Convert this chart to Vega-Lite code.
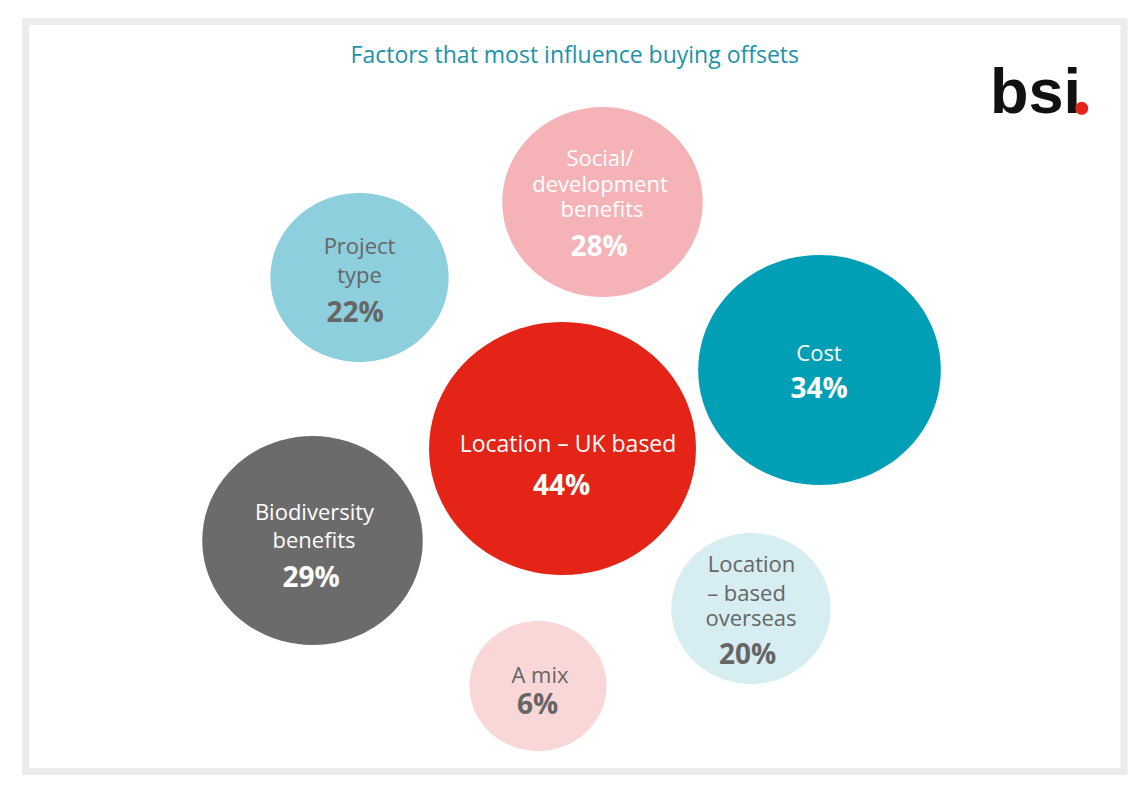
{
  "$schema": "https://vega.github.io/schema/vega-lite/v6.json",
  "width": 1098.5,
  "height": 750,
  "autosize": {"type": "none"},
  "padding": {"left": 25.5, "top": 21.5, "right": 13, "bottom": 22.5},
  "background": "white",
  "config": {
    "view": {"stroke": "#ececea", "strokeWidth": 7, "fill": "white"},
    "font": "Open Sans"
  },
  "title": {
    "text": "Factors that most influence buying offsets",
    "color": "#1b93a8",
    "font": "Open Sans",
    "fontSize": 23,
    "fontWeight": "normal",
    "anchor": "middle",
    "baseline": "alphabetic",
    "offset": -64
  },
  "datasets": {
    "bubbles": [
      {"category": "Social/development benefits", "value": 28, "x": 602.5, "y": 202},
      {"category": "Project type", "value": 22, "x": 359.5, "y": 277.5},
      {"category": "Cost", "value": 34, "x": 819.5, "y": 370},
      {"category": "Location – UK based", "value": 44, "x": 562.5, "y": 448.5},
      {"category": "Biodiversity benefits", "value": 29, "x": 312.5, "y": 540.5},
      {"category": "Location – based overseas", "value": 20, "x": 751, "y": 608.5},
      {"category": "A mix", "value": 6, "x": 538, "y": 686}
    ],
    "labels": [
      {"category": "Social/development benefits", "kind": "name", "text": "Social/", "x": 600, "y": 165.7},
      {"category": "Social/development benefits", "kind": "name", "text": "development", "x": 600, "y": 191.7},
      {"category": "Social/development benefits", "kind": "name", "text": "benefits", "x": 602, "y": 217.3},
      {"category": "Social/development benefits", "kind": "pct", "text": "28%", "x": 599, "y": 256},
      {"category": "Project type", "kind": "name", "text": "Project", "x": 359.5, "y": 254},
      {"category": "Project type", "kind": "name", "text": "type", "x": 359.5, "y": 283.3},
      {"category": "Project type", "kind": "pct", "text": "22%", "x": 355, "y": 321.7},
      {"category": "Cost", "kind": "name", "text": "Cost", "x": 819, "y": 361},
      {"category": "Cost", "kind": "pct", "text": "34%", "x": 819, "y": 398},
      {"category": "Location – UK based", "kind": "wide", "text": "Location – UK based", "x": 568, "y": 451.7},
      {"category": "Location – UK based", "kind": "pct", "text": "44%", "x": 561.5, "y": 495},
      {"category": "Biodiversity benefits", "kind": "name", "text": "Biodiversity", "x": 314.5, "y": 520},
      {"category": "Biodiversity benefits", "kind": "name", "text": "benefits", "x": 314, "y": 548.3},
      {"category": "Biodiversity benefits", "kind": "pct", "text": "29%", "x": 311, "y": 586.7},
      {"category": "Location – based overseas", "kind": "name", "text": "Location", "x": 751.5, "y": 572.3},
      {"category": "Location – based overseas", "kind": "name", "text": "– based", "x": 746.5, "y": 600.7},
      {"category": "Location – based overseas", "kind": "name", "text": "overseas", "x": 751, "y": 626},
      {"category": "Location – based overseas", "kind": "pct", "text": "20%", "x": 747.5, "y": 664.3},
      {"category": "A mix", "kind": "name", "text": "A mix", "x": 540, "y": 683.3},
      {"category": "A mix", "kind": "pct", "text": "6%", "x": 537.5, "y": 714}
    ],
    "logo": [
      {"part": "wordmark", "text": "bsi", "x": 990, "y": 113}
    ],
    "logodot": [
      {"part": "dot", "x": 1081.7, "y": 108.3}
    ]
  },
  "encoding": {
    "x": {"field": "x", "type": "quantitative", "scale": {"domain": [25.5, 1124], "nice": false, "zero": false}, "axis": null},
    "y": {"field": "y", "type": "quantitative", "scale": {"domain": [21.5, 771.5], "reverse": true, "nice": false, "zero": false}, "axis": null}
  },
  "layer": [
    {
      "data": {"name": "bubbles"},
      "mark": {
        "type": "point",
        "filled": true,
        "opacity": 1,
        "strokeWidth": 0,
        "shape": "M -1.055 0 A 1.055 1 0 1 1 1.055 0 A 1.055 1 0 1 1 -1.055 0 Z"
      },
      "encoding": {
        "size": {
          "field": "value", "type": "quantitative", "legend": null,
          "scale": {"type": "linear", "domain": [6, 20, 22, 28, 29, 34, 44], "range": [16900, 22801, 28561, 36100, 43681, 52900, 64009]}
        },
        "color": {
          "field": "category", "type": "nominal", "legend": null,
          "scale": {
            "domain": ["Social/development benefits", "Project type", "Cost", "Location – UK based", "Biodiversity benefits", "Location – based overseas", "A mix"],
            "range": ["#f5b3b8", "#8dcfdd", "#009fb6", "#e32416", "#6b6b6b", "#d6edf2", "#f9d7d7"]
          }
        }
      }
    },
    {
      "data": {"name": "labels"},
      "transform": [{"filter": "datum.kind === 'name'"}],
      "mark": {"type": "text", "font": "Open Sans", "fontSize": 22, "align": "center", "baseline": "alphabetic"},
      "encoding": {
        "text": {"field": "text", "type": "nominal"},
        "color": {
          "field": "category", "type": "nominal", "legend": null,
          "scale": {
            "domain": ["Social/development benefits", "Project type", "Cost", "Location – UK based", "Biodiversity benefits", "Location – based overseas", "A mix"],
            "range": ["#ffffff", "#666666", "#ffffff", "#ffffff", "#ffffff", "#666666", "#666666"]
          }
        }
      }
    },
    {
      "data": {"name": "labels"},
      "transform": [{"filter": "datum.kind === 'wide'"}],
      "mark": {"type": "text", "font": "Open Sans", "fontSize": 23, "align": "center", "baseline": "alphabetic", "color": "#ffffff"},
      "encoding": {
        "text": {"field": "text", "type": "nominal"}
      }
    },
    {
      "data": {"name": "labels"},
      "transform": [{"filter": "datum.kind === 'pct'"}],
      "mark": {"type": "text", "font": "Open Sans", "fontSize": 28, "fontWeight": "bold", "align": "center", "baseline": "alphabetic"},
      "encoding": {
        "text": {"field": "text", "type": "nominal"},
        "color": {
          "field": "category", "type": "nominal", "legend": null,
          "scale": {
            "domain": ["Social/development benefits", "Project type", "Cost", "Location – UK based", "Biodiversity benefits", "Location – based overseas", "A mix"],
            "range": ["#ffffff", "#666666", "#ffffff", "#ffffff", "#ffffff", "#666666", "#666666"]
          }
        }
      }
    },
    {
      "data": {"name": "logo"},
      "mark": {"type": "text", "font": "Liberation Sans", "fontSize": 63, "fontWeight": "bold", "align": "left", "baseline": "alphabetic", "color": "#111111"},
      "encoding": {
        "text": {"field": "text", "type": "nominal"}
      }
    },
    {
      "data": {"name": "logodot"},
      "mark": {"type": "point", "shape": "circle", "filled": true, "opacity": 1, "size": 169, "color": "#e3261b", "strokeWidth": 0},
      "encoding": {}
    }
  ],
  "resolve": {"scale": {"color": "independent"}}
}
